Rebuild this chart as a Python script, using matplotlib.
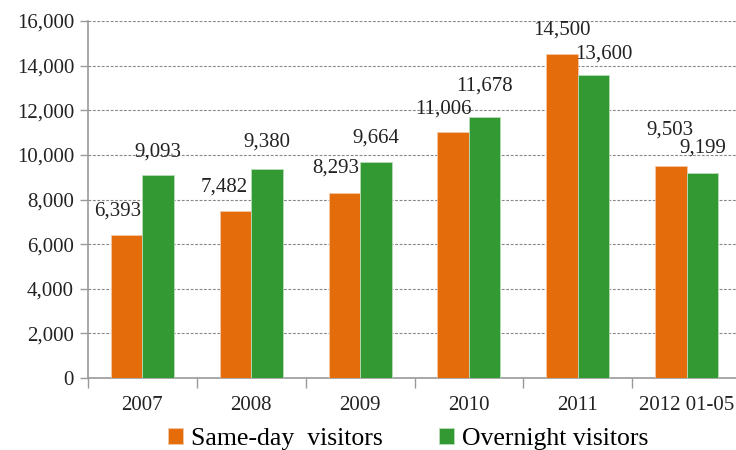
import numpy as np
import matplotlib
matplotlib.use('Agg')
from matplotlib import pyplot as plt
from matplotlib.ticker import FuncFormatter

years = ['2007', '2008', '2009', '2010', '2011', '2012 01-05']
same_day = [6393, 7482, 8293, 11006, 14500, 9503]
overnight = [9093, 9380, 9664, 11678, 13600, 9199]

# label offsets in pixels (dx, dy) - labels were nudged by hand in the original
sd_off = [(-9, 15), (-11, 15), (-9, 15), (-10, 14), (0, 15), (-1, 26)]
on_off = [(0, 14), (0, 17), (0, 15), (0, 22), (10, 11), (0, 15)]

orange = '#E46C0A'; green = '#339933'

plt.rcParams['font.family'] = ['Liberation Serif', 'DejaVu Serif']
fig = plt.figure(figsize=(7.36, 4.5), dpi=100)
ax = fig.add_axes([88/736, 72/450, 653/736, 357/450])

x = np.arange(len(years))
w = 0.29
b1 = ax.bar(x - w/2, same_day, w, color=orange, edgecolor='#f3c9a8', linewidth=0.6, label='Same-day  visitors', zorder=3)
b2 = ax.bar(x + w/2, overnight, w, color=green, edgecolor='#b9dcb9', linewidth=0.6, label='Overnight visitors', zorder=3)

px = 72 / 100
for i in range(len(years)):
    ax.annotate(f'{same_day[i]:,}', (x[i] - w/2, same_day[i]), xytext=(sd_off[i][0]*px, sd_off[i][1]*px),
                textcoords='offset points', ha='center', va='bottom', fontsize=15, color='#222222', zorder=4)
    ax.annotate(f'{overnight[i]:,}', (x[i] + w/2, overnight[i]), xytext=(on_off[i][0]*px, on_off[i][1]*px),
                textcoords='offset points', ha='center', va='bottom', fontsize=15, color='#222222', zorder=4)

ax.set_xlim(-0.5, len(years) - 0.5)
ax.set_ylim(0, 16000)
ax.set_yticks(range(0, 16001, 2000))
ax.yaxis.set_major_formatter(FuncFormatter(lambda v, p: f'{int(v):,}'))
ax.set_xticks(x)
ax.set_xticklabels(years)
ax.set_xticks(np.arange(-0.5, len(years), 1), minor=True)
ax.tick_params(axis='x', which='major', length=0, pad=13, labelsize=15, colors='#222222')
ax.tick_params(axis='x', which='minor', length=7, width=1, color='#999999')
ax.tick_params(axis='y', length=6, width=1, color='#999999', labelsize=15, labelcolor='#222222', pad=4)

ax.grid(axis='y', linestyle=(0, (2.5, 1.5)), color='#888888', linewidth=0.8, zorder=0)
for s in ['top', 'right']:
    ax.spines[s].set_visible(False)
for s in ['left', 'bottom']:
    ax.spines[s].set_color('#999999')
    ax.spines[s].set_linewidth(1.2)

fig.legend(handles=[b1, b2], loc='center', bbox_to_anchor=(408/736, 1 - 439/450), ncol=2, frameon=False,
           fontsize=18.5, handlelength=0.6, handleheight=0.6, handletextpad=0.3, columnspacing=2.2)

fig.savefig('out.png', dpi=100)
